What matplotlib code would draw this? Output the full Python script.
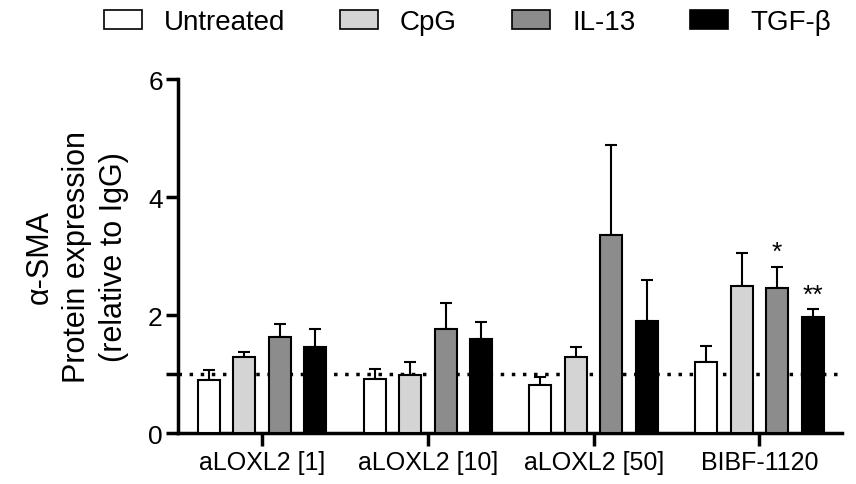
import numpy as np
import matplotlib.pyplot as plt
from matplotlib.patches import Patch

plt.rcParams['font.family'] = ['Liberation Sans', 'DejaVu Sans']

groups = ['aLOXL2 [1]', 'aLOXL2 [10]', 'aLOXL2 [50]', 'BIBF-1120']
treatments = ['Untreated', 'CpG', 'IL-13', 'TGF-β']
colors = ['white', '#d4d4d4', '#8c8c8c', 'black']

untreated = [0.90, 0.92, 0.82, 1.21]
cpg = [1.29, 0.98, 1.29, 2.49]
il13 = [1.63, 1.76, 3.36, 2.46]
tgfb = [1.46, 1.59, 1.90, 1.97]

untreated_err = [0.17, 0.16, 0.13, 0.27]
cpg_err = [0.08, 0.22, 0.17, 0.56]
il13_err = [0.22, 0.44, 1.52, 0.36]
tgfb_err = [0.30, 0.29, 0.70, 0.13]

# significance marks: (group, treatment) -> text
stars = {(3, 2): '*', (3, 3): '**'}

means = [untreated, cpg, il13, tgfb]
errs = [untreated_err, cpg_err, il13_err, tgfb_err]

fig = plt.figure(figsize=(8.56, 4.85), dpi=100)
ax = fig.add_axes([0.208, 0.105, 0.776, 0.73])

x = np.arange(len(groups))
step = 0.214
width = 0.133
for i, (m, e) in enumerate(zip(means, errs)):
    pos = x + (i - 1.5) * step
    ax.bar(pos, m, width, color=colors[i], edgecolor='black', linewidth=1.5, zorder=3)
    ax.errorbar(pos, m, yerr=[np.zeros(len(e)), e], fmt='none', ecolor='black',
                elinewidth=1.5, capsize=4.5, capthick=1.5, zorder=2)
    for j in range(len(groups)):
        if (j, i) in stars:
            ax.text(pos[j], m[j] + e[j] + 0.04, stars[(j, i)], ha='center', va='bottom',
                    fontsize=19)

ax.axhline(1, color='black', linestyle=(0, (1, 2.2)), linewidth=2.5, zorder=1)

ax.set_xlim(-0.507, 3.50)
ax.set_ylim(0, 6)
ax.set_yticks([0, 2, 4, 6])
ax.set_yticks([1], minor=True)
ax.set_xticks(x)
ax.set_xticklabels(groups, fontsize=18)
ax.tick_params(axis='y', labelsize=19, width=2.5, length=9, direction='out', pad=2)
ax.tick_params(axis='y', which='minor', width=2.5, length=9)
ax.tick_params(axis='x', width=2.5, length=9, pad=3)
for s in ['top', 'right']:
    ax.spines[s].set_visible(False)
for s in ['left', 'bottom']:
    ax.spines[s].set_linewidth(2.5)

fig.text(77 / 856, 1 - 257 / 485, 'α-SMA\nProtein expression\n(relative to IgG)',
         rotation=90, ha='center', va='center', fontsize=22, linespacing=1.3)

handles = [Patch(facecolor=c, edgecolor='black', linewidth=1.2) for c in colors]
fig.legend(handles, treatments, loc='center', bbox_to_anchor=(0.546, 0.952), ncol=4,
           frameon=False, fontsize=20, handlelength=1.37, handleheight=0.72,
           columnspacing=1.98, handletextpad=0.79, borderaxespad=0, borderpad=0)

fig.savefig('out.png', dpi=100)
